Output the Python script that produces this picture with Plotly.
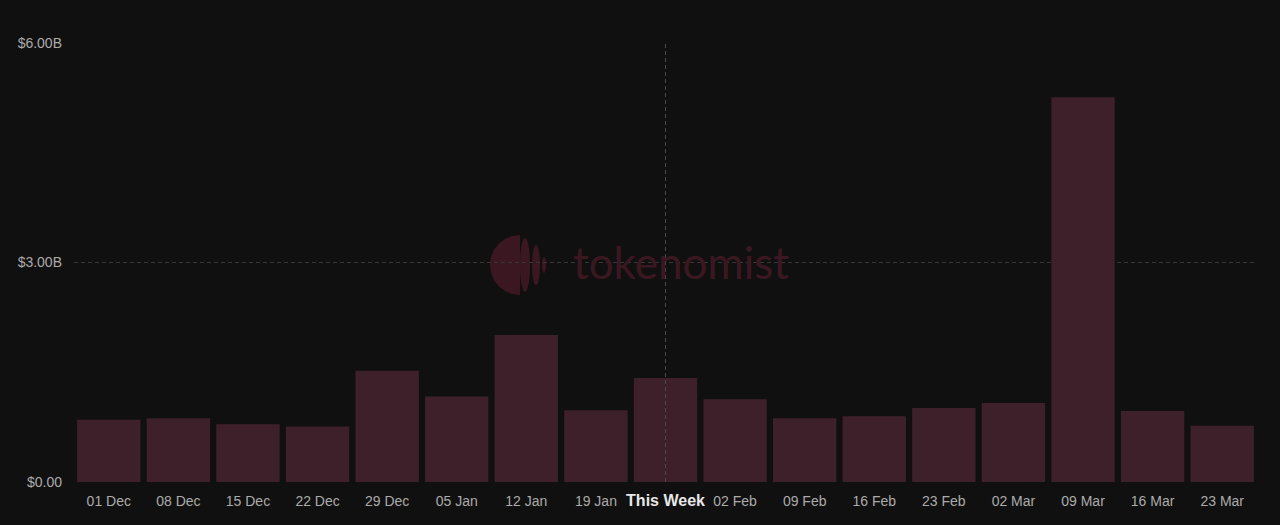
import plotly.graph_objects as go

# Weekly values (USD)
weeks = ['01 Dec', '08 Dec', '15 Dec', '22 Dec', '29 Dec', '05 Jan', '12 Jan', '19 Jan',
         '26 Jan', '02 Feb', '09 Feb', '16 Feb', '23 Feb', '02 Mar', '09 Mar', '16 Mar', '23 Mar']
values = [0.85e9, 0.87e9, 0.79e9, 0.76e9, 1.52e9, 1.17e9, 2.01e9, 0.98e9,
          1.42e9, 1.13e9, 0.87e9, 0.90e9, 1.01e9, 1.08e9, 5.26e9, 0.97e9, 0.77e9]
current_week = '26 Jan'
week_labels = [('<span style="font-size:16px;color:#e8e8e8"><b>This Week</b></span>'
                if w == current_week else w) for w in weeks]

y_ticks = [0, 3e9, 6e9]
y_labels = ['$0.00', '$3.00B', '$6.00B']

BG = '#111010'
BAR = '#3e202b'
MARK = '#3b1821'

W, H = 1280, 525
L, R, T, B = 74, 23, 43, 43


def px(x):
    return (x - L) / (W - L - R)


def py(y):
    return 1 - (y - T) / (H - T - B)


fig = go.Figure()
fig.add_trace(go.Bar(
    x=weeks, y=values,
    marker=dict(color=BAR, line=dict(width=0)),
    hovertemplate='%{x}<br>$%{y:.3s}<extra></extra>',
))

# watermark
shapes = []
cx, cy, r = 520, 265, 30
arc = [(0.26, 0.97), (0.5, 0.87), (0.71, 0.71), (0.87, 0.5), (0.97, 0.26), (1, 0),
       (0.97, -0.26), (0.87, -0.5), (0.71, -0.71), (0.5, -0.87), (0.26, -0.97), (0, -1)]
shapes.append(dict(type='path', xref='paper', yref='paper', layer='below',
                   path=f'M {px(cx)},{py(cy - r)} '
                        + ' '.join(f'L {px(cx - r * s)},{py(cy - r * c)}' for s, c in arc)
                        + ' Z',
                   fillcolor=MARK, line=dict(width=0)))
for x0, x1, h in [(520, 530, 27), (532, 540, 20), (542, 546, 8)]:
    shapes.append(dict(type='circle', xref='paper', yref='paper', layer='below',
                       x0=px(x0), x1=px(x1), y0=py(cy + h), y1=py(cy - h),
                       fillcolor=MARK, line=dict(width=0)))

# current week marker
shapes.append(dict(type='line', xref='x', yref='paper', x0=current_week, x1=current_week,
                   y0=0, y1=1, line=dict(color='#4a4a4a', width=1, dash='4px,3px'), layer='above'))

fig.update_layout(
    width=W, height=H,
    margin=dict(l=L, r=R, t=T, b=B),
    paper_bgcolor=BG, plot_bgcolor=BG,
    bargap=0.09,
    showlegend=False,
    font=dict(family='Liberation Sans, Arial, sans-serif', size=14, color='#ababab'),
    shapes=shapes,
    annotations=[dict(text='tokenomist', xref='paper', yref='paper', x=px(571), y=py(262),
                      xanchor='left', yanchor='middle', showarrow=False,
                      font=dict(family='Lato, sans-serif', size=44, color=MARK))],
)
fig.update_xaxes(tickvals=weeks, ticktext=week_labels, showgrid=False, zeroline=False,
                 showline=False, ticks='', ticklabelstandoff=9,
                 tickfont=dict(size=14, color='#ababab'))
fig.update_yaxes(range=[0, 6e9], tickvals=y_ticks, ticktext=y_labels, showgrid=True,
                 gridcolor='#363636', griddash='4px,3px', gridwidth=1, zeroline=False,
                 showline=False, ticks='', ticklabelstandoff=11,
                 tickfont=dict(size=14, color='#ababab'))

fig.write_html('out.html', config={'displayModeBar': False},
               post_script="document.body.style.margin='0';")
